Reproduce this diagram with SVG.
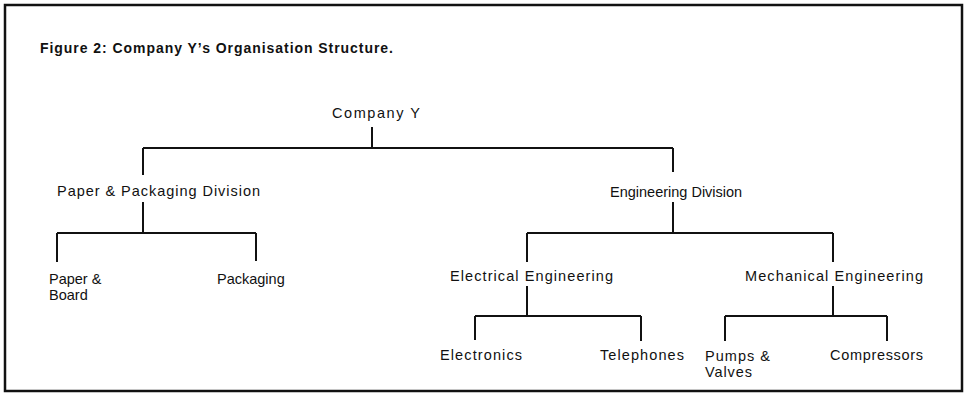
<svg xmlns="http://www.w3.org/2000/svg" width="967" height="401" viewBox="0 0 967 401">
<style>
text{font-family:"Liberation Sans",Arial,Helvetica,sans-serif;font-size:14.5px;fill:#111}
.title{font-weight:bold;font-size:14px}
.ln{stroke:#111;stroke-width:2;fill:none}
.frame{stroke:#111;stroke-width:2.5;fill:#fff}
</style>
<rect x="0" y="0" width="967" height="401" fill="#fff"/>
<rect class="frame" x="5" y="5" width="957" height="386"/>
<text class="title" x="40" y="53" textLength="353" lengthAdjust="spacing">Figure 2: Company Y’s Organisation Structure.</text>
<g id="connectors" class="ln">
<path d="M372 127V148M143 148H673M143 148V175M673 148V172"/>
<path d="M143 202V233M57 233H256M57 233V262M256 233V261"/>
<path d="M673 202V233M527 233H833M527 233V262M833 233V262"/>
<path d="M527 286V316M475 316H641M475 316V340M641 316V341"/>
<path d="M833 286V316M725 316H887M725 316V341M887 316V341"/>
</g>
<g id="company-y"><text x="332" y="118" textLength="88" lengthAdjust="spacing">Company Y</text></g>
<g id="paper-packaging-division"><text x="57" y="196" textLength="203" lengthAdjust="spacing">Paper &amp; Packaging Division</text></g>
<g id="engineering-division"><text x="610" y="197">Engineering Division</text></g>
<g id="paper-board"><text x="49" y="284">Paper &amp;</text><text x="49" y="300">Board</text></g>
<g id="packaging"><text x="217" y="284">Packaging</text></g>
<g id="electrical-engineering"><text x="450" y="281" textLength="163" lengthAdjust="spacing">Electrical Engineering</text></g>
<g id="mechanical-engineering"><text x="745" y="281" textLength="178" lengthAdjust="spacing">Mechanical Engineering</text></g>
<g id="electronics"><text x="440" y="360" textLength="82" lengthAdjust="spacing">Electronics</text></g>
<g id="telephones"><text x="600" y="360" textLength="84" lengthAdjust="spacing">Telephones</text></g>
<g id="pumps-valves"><text x="705" y="361" textLength="65" lengthAdjust="spacing">Pumps &amp;</text><text x="705" y="377" textLength="47" lengthAdjust="spacing">Valves</text></g>
<g id="compressors"><text x="830" y="360" textLength="93" lengthAdjust="spacing">Compressors</text></g>
</svg>
